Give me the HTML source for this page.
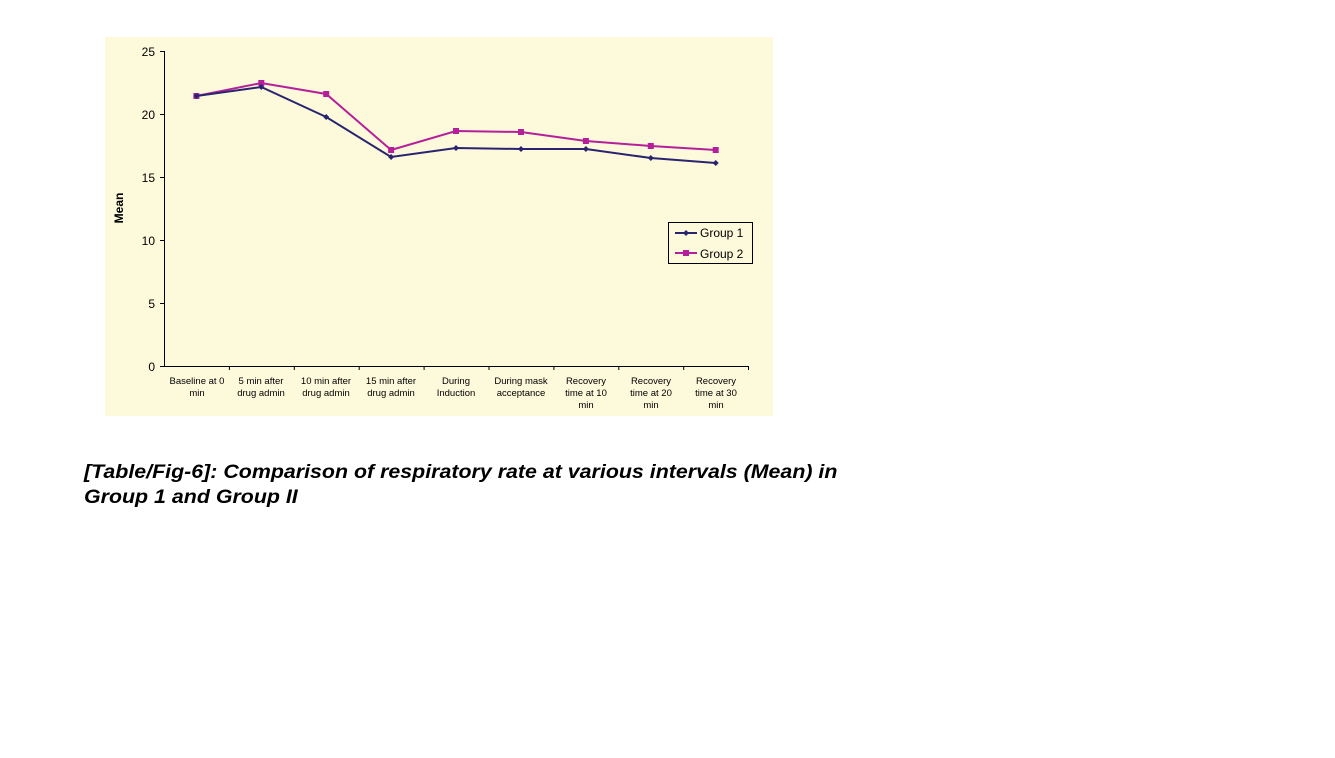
<!DOCTYPE html>
<html><head><meta charset="utf-8"><style>
body{margin:0;background:#fff;width:1335px;height:758px;overflow:hidden;position:relative;font-family:"Liberation Sans",Arial,sans-serif}
.cap{position:absolute;left:84px;top:460px;font-weight:bold;font-style:italic;font-size:19px;line-height:25px;color:#000;white-space:nowrap;transform:scaleX(1.125);transform-origin:0 0}
</style></head><body>
<svg width="1335" height="758" style="position:absolute;left:0;top:0" font-family="Liberation Sans, Arial, sans-serif">
<rect x="105" y="37" width="668" height="379" fill="#fdf9db"/>
<g stroke="#000" stroke-width="1" fill="none">
<line x1="164.5" y1="51" x2="164.5" y2="366"/>
<line x1="164" y1="366.5" x2="748" y2="366.5"/>
<line x1="160" y1="51.5" x2="164" y2="51.5"/>
<line x1="160" y1="114.5" x2="164" y2="114.5"/>
<line x1="160" y1="177.5" x2="164" y2="177.5"/>
<line x1="160" y1="240.5" x2="164" y2="240.5"/>
<line x1="160" y1="303.5" x2="164" y2="303.5"/>
<line x1="160" y1="366.5" x2="164" y2="366.5"/>
<path d="M229.4 366v4M294.3 366v4M359.2 366v4M424.1 366v4M489 366v4M553.9 366v4M618.8 366v4M683.7 366v4M748.5 366v4"/>
</g>
<g font-size="12" text-anchor="end" fill="#000">
<text x="155" y="56">25</text><text x="155" y="119">20</text><text x="155" y="182">15</text>
<text x="155" y="245">10</text><text x="155" y="308">5</text><text x="155" y="371">0</text>
</g>
<text transform="translate(123,208) rotate(-90)" font-size="12" font-weight="bold" text-anchor="middle">Mean</text>
<g font-size="9.5" text-anchor="middle" fill="#000">
<text x="197" y="384">Baseline  at 0</text><text x="197" y="396">min</text>
<text x="261" y="384">5 min after</text><text x="261" y="396">drug admin</text>
<text x="326" y="384">10 min after</text><text x="326" y="396">drug admin</text>
<text x="391" y="384">15 min after</text><text x="391" y="396">drug admin</text>
<text x="456" y="384">During</text><text x="456" y="396">Induction</text>
<text x="521" y="384">During mask</text><text x="521" y="396">acceptance</text>
<text x="586" y="384">Recovery</text><text x="586" y="396">time at 10</text><text x="586" y="408">min</text>
<text x="651" y="384">Recovery</text><text x="651" y="396">time at 20</text><text x="651" y="408">min</text>
<text x="716" y="384">Recovery</text><text x="716" y="396">time at 30</text><text x="716" y="408">min</text>
</g>
<polyline fill="none" stroke="#b5209a" stroke-width="2" points="196.4,96 261.3,83 326.2,94 391.1,150 456,131 521,132 585.9,141 650.8,146 715.7,150"/>
<g fill="#b5209a">
<rect x="193.4" y="93" width="6" height="6"/><rect x="258.3" y="80" width="6" height="6"/><rect x="323.2" y="91" width="6" height="6"/>
<rect x="388.1" y="147" width="6" height="6"/><rect x="453" y="128" width="6" height="6"/><rect x="518" y="129" width="6" height="6"/>
<rect x="582.9" y="138" width="6" height="6"/><rect x="647.8" y="143" width="6" height="6"/><rect x="712.7" y="147" width="6" height="6"/>
</g>
<polyline fill="none" stroke="#2a2470" stroke-width="2" points="196.4,96 261.3,87 326.2,117 391.1,157 456,148 521,149 585.9,149 650.8,158 715.7,163"/>
<g fill="#2a2470">
<path d="M196.4 93l3 3-3 3-3-3z M261.3 84l3 3-3 3-3-3z M326.2 114l3 3-3 3-3-3z M391.1 154l3 3-3 3-3-3z M456 145l3 3-3 3-3-3z M521 146l3 3-3 3-3-3z M585.9 146l3 3-3 3-3-3z M650.8 155l3 3-3 3-3-3z M715.7 160l3 3-3 3-3-3z"/>
</g>
<rect x="668.5" y="222.5" width="84" height="41" fill="#fdf9db" stroke="#000" stroke-width="1"/>
<line x1="675" y1="233" x2="697" y2="233" stroke="#2a2470" stroke-width="2"/>
<path d="M686 230l3 3-3 3-3-3z" fill="#2a2470"/>
<line x1="675" y1="253" x2="697" y2="253" stroke="#b5209a" stroke-width="2"/>
<rect x="683" y="250" width="6" height="6" fill="#b5209a"/>
<text x="700" y="237" font-size="12">Group 1</text>
<text x="700" y="258" font-size="12">Group 2</text>
</svg>
<div class="cap">[Table/Fig-6]: Comparison of respiratory rate at various intervals (Mean) in<br>Group 1 and Group II</div>
</body></html>
